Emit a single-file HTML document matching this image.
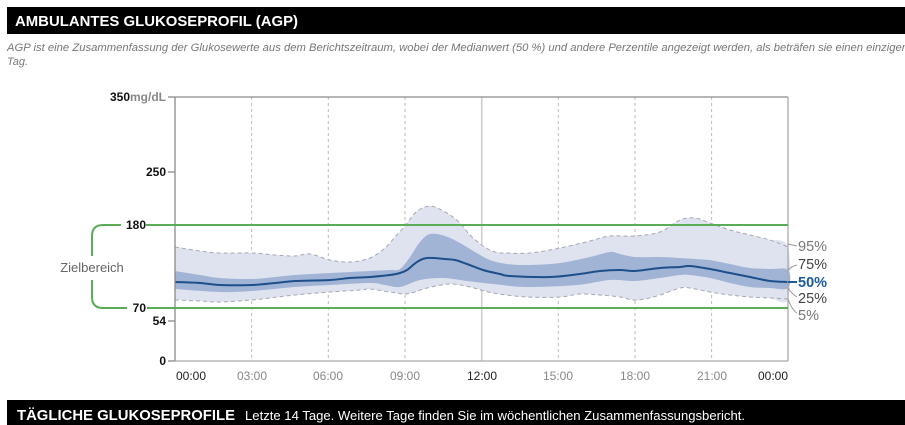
<!DOCTYPE html>
<html><head><meta charset="utf-8">
<style>
html,body{margin:0;padding:0;background:#fff;}
svg{display:block;font-family:"Liberation Sans",Arial,sans-serif;}
</style></head>
<body>
<svg id="c" width="905" height="425" viewBox="0 0 905 425" xmlns="http://www.w3.org/2000/svg">
<!-- header -->
<rect x="7" y="7" width="898" height="27" fill="#000"/>
<text x="15" y="26" font-size="15" font-weight="bold" fill="#fff" textLength="283" lengthAdjust="spacingAndGlyphs">AMBULANTES GLUKOSEPROFIL (AGP)</text>
<text x="7" y="51" font-size="11" font-style="italic" fill="#777" textLength="441" lengthAdjust="spacingAndGlyphs">AGP ist eine Zusammenfassung der Glukosewerte aus dem Berichtszeitraum, wobei der</text>
<text x="451" y="51" font-size="11" font-style="italic" fill="#777" textLength="457" lengthAdjust="spacingAndGlyphs">Medianwert (50 %) und andere Perzentile angezeigt werden, als beträfen sie einen einzigen</text>
<text x="7" y="65" font-size="11" font-style="italic" fill="#777">Tag.</text>

<!-- gridlines -->
<g stroke="#bbb" stroke-width="1" stroke-dasharray="3,3">
<line x1="251.6" y1="97" x2="251.6" y2="361"/>
<line x1="328.3" y1="97" x2="328.3" y2="361"/>
<line x1="405" y1="97" x2="405" y2="361"/>
<line x1="558.3" y1="97" x2="558.3" y2="361"/>
<line x1="635" y1="97" x2="635" y2="361"/>
<line x1="711.6" y1="97" x2="711.6" y2="361"/>
</g>
<line x1="481.7" y1="97" x2="481.7" y2="361" stroke="#ccc" stroke-width="1.5"/>

<!-- 5-95 band -->
<polygon class="sm" fill="#dfe3ef" points="175,247 200,251 220,253 252,253 275,255 295,256 310,254 330,260 350,262 370,258 385,248 395,237 405,226 415,213 425,207 435,207 450,215 460,223 470,235 483,246 495,252 507,253 530,253 560,248 590,241 610,236 635,236 660,232 680,220 695,218 710,223 730,230 750,235 770,240 788,247 788,299 770,298 750,297 730,295 710,292 690,288 680,288 660,295 645,299 633,300 620,297 600,295 580,294 560,297 527,297 493,293 470,287 450,284 427,288 415,292 405,294 390,292 370,289 360,290 330,292 295,295 270,298 252,300 220,302 200,301 175,300"/>
<polyline class="sm" fill="none" stroke="#a5a9b3" stroke-width="1" stroke-dasharray="4,3" points="175,247 200,251 220,253 252,253 275,255 295,256 310,254 330,260 350,262 370,258 385,248 395,237 405,226 415,213 425,207 435,207 450,215 460,223 470,235 483,246 495,252 507,253 530,253 560,248 590,241 610,236 635,236 660,232 680,220 695,218 710,223 730,230 750,235 770,240 788,247"/>
<polyline class="sm" fill="none" stroke="#a5a9b3" stroke-width="1" stroke-dasharray="4,3" points="175,300 200,301 220,302 252,300 270,298 295,295 330,292 360,290 370,289 390,292 405,294 415,292 427,288 450,284 470,287 493,293 527,297 560,297 580,294 600,295 620,297 633,300 645,299 660,295 680,288 690,288 710,292 730,295 750,297 770,298 788,299"/>

<!-- 25-75 band -->
<polygon class="sm" fill="#a2b4d6" points="175,271 200,275 220,278 252,279 275,277 295,275 330,273 370,271 390,270 400,269 410,257 420,242 430,234 445,236 460,243 475,252 490,260 507,264 530,265 560,263 590,257 610,252 620,254 635,257 660,257 680,258 710,260 730,264 750,268 770,269 788,270 788,288 770,288 750,287 730,283 710,278 690,275 680,275 660,278 635,281 610,280 577,285 527,287 493,284 467,281 443,278 420,280 400,287 385,285 370,283 330,285 295,287 252,291 220,292 175,289"/>

<!-- median -->
<polyline class="sm" fill="none" stroke="#1d4f8b" stroke-width="2" stroke-linejoin="round" points="175,282 200,283 220,285 252,285 275,283 295,281 330,280 350,278 370,277 390,275 400,273 407,270 417,262 427,258 445,259 455,260 467,264 483,270 500,274 510,276 550,277 580,274 600,271 620,270 635,271 660,268 680,267 690,266 710,269 730,273 750,277 770,281 788,282"/>

<!-- axes -->
<g stroke="#8a8a8a" stroke-width="1.3" fill="none">
<line x1="175" y1="97" x2="788" y2="97"/>
<line x1="175" y1="97" x2="175" y2="361"/>
<line x1="788" y1="97" x2="788" y2="361" stroke="#aaa"/>
<line x1="175" y1="361" x2="788" y2="361" stroke="#aaa"/>
<line x1="168" y1="97" x2="175" y2="97"/>
<line x1="168" y1="172" x2="175" y2="172"/>
<line x1="168" y1="321" x2="175" y2="321"/>
<line x1="168" y1="361" x2="175" y2="361"/>
</g>

<!-- target range green -->
<g stroke="#5aac57" stroke-width="2" fill="none">
<line x1="146" y1="225" x2="788" y2="225"/>
<line x1="147" y1="308" x2="788" y2="308"/>
<path d="M121,225 H103 Q92,225 92,236 V256"/>
<path d="M92,280 V297 Q92,308 103,308 H127"/>
</g>
<text x="92" y="272" font-size="13" fill="#666" text-anchor="middle">Zielbereich</text>

<!-- y labels -->
<g font-size="12" font-weight="bold" fill="#111" text-anchor="end">
<text x="166" y="101"><tspan>350</tspan><tspan fill="#888">mg/dL</tspan></text>
<text x="166" y="176">250</text>
<text x="146" y="229">180</text>
<text x="146" y="312">70</text>
<text x="166" y="325">54</text>
<text x="166" y="365">0</text>
</g>

<!-- x labels -->
<g font-size="12" fill="#888" text-anchor="middle">
<text x="176" y="380" text-anchor="start" fill="#222">00:00</text>
<text x="252" y="380">03:00</text>
<text x="328" y="380">06:00</text>
<text x="405" y="380">09:00</text>
<text x="482" y="380" fill="#222">12:00</text>
<text x="558" y="380">15:00</text>
<text x="635" y="380">18:00</text>
<text x="712" y="380">21:00</text>
<text x="788" y="380" text-anchor="end" fill="#222">00:00</text>
</g>

<!-- legend -->
<g stroke="#999" stroke-width="1" fill="none">
<path d="M788,244 Q792,245 797,246"/>
<path d="M788,270 Q792,266 797,265"/>
<path d="M788,288 Q792,294 797,297"/>
<path d="M788,299 Q792,310 797,313"/>
</g>
<line x1="788" y1="282" x2="797" y2="282" stroke="#1d5a98" stroke-width="2"/>
<g font-size="14.5">
<text x="798" y="251" fill="#777">95%</text>
<text x="798" y="269" fill="#444">75%</text>
<text x="798" y="287" fill="#1d5a98" font-weight="bold">50%</text>
<text x="798" y="303" fill="#444">25%</text>
<text x="798" y="320" fill="#777">5%</text>
</g>

<!-- bottom header -->
<rect x="7" y="400" width="898" height="25" fill="#000"/>
<text x="17" y="420" font-size="15" font-weight="bold" fill="#fff" textLength="218" lengthAdjust="spacingAndGlyphs">TÄGLICHE GLUKOSEPROFILE</text>
<text x="245" y="420" font-size="13" fill="#fff" textLength="500" lengthAdjust="spacingAndGlyphs">Letzte 14 Tage. Weitere Tage finden Sie im wöchentlichen Zusammenfassungsbericht.</text>
</svg>
<script>
(function(){
  try{
    var NS="http://www.w3.org/2000/svg";
    function seg(p){
      var d="";
      for(var i=0;i<p.length-1;i++){
        var p0=p[i-1]||p[i],p1=p[i],p2=p[i+1],p3=p[i+2]||p2;
        var t=6;
        var c1x=p1[0]+(p2[0]-p0[0])/t,c1y=p1[1]+(p2[1]-p0[1])/t;
        var c2x=p2[0]-(p3[0]-p1[0])/t,c2y=p2[1]-(p3[1]-p1[1])/t;
        if(c1x<p1[0])c1x=p1[0]; if(c2x>p2[0])c2x=p2[0];
        d+=" C"+c1x.toFixed(2)+","+c1y.toFixed(2)+" "+c2x.toFixed(2)+","+c2y.toFixed(2)+" "+p2[0]+","+p2[1];
      }
      return d;
    }
    function parse(s){return s.trim().split(/\s+/).map(function(q){var a=q.split(",");return [+a[0],+a[1]];});}
    var els=document.querySelectorAll(".sm");
    for(var k=0;k<els.length;k++){
      var el=els[k],pts=parse(el.getAttribute("points")),d;
      if(el.tagName.toLowerCase()==="polygon"){
        var n=pts.length/2,a=pts.slice(0,n),b=pts.slice(n);
        var brev=b.slice().reverse();
        d="M"+a[0][0]+","+a[0][1]+seg(a)+" L"+b[0][0]+","+b[0][1];
        // b goes right-to-left; smooth using reversed-x logic
        var dd="";
        for(var i=0;i<b.length-1;i++){
          var p0=b[i-1]||b[i],p1=b[i],p2=b[i+1],p3=b[i+2]||p2,t=6;
          dd+=" C"+(p1[0]+(p2[0]-p0[0])/t).toFixed(2)+","+(p1[1]+(p2[1]-p0[1])/t).toFixed(2)+" "+(p2[0]-(p3[0]-p1[0])/t).toFixed(2)+","+(p2[1]-(p3[1]-p1[1])/t).toFixed(2)+" "+p2[0]+","+p2[1];
        }
        d+=dd+" Z";
      } else {
        d="M"+pts[0][0]+","+pts[0][1]+seg(pts);
      }
      var p=document.createElementNS(NS,"path");
      var attrs=["fill","stroke","stroke-width","stroke-dasharray","stroke-linejoin"];
      for(var j=0;j<attrs.length;j++){var v=el.getAttribute(attrs[j]);if(v!==null)p.setAttribute(attrs[j],v);}
      p.setAttribute("d",d);
      el.parentNode.replaceChild(p,el);
    }
  }catch(e){}
})();
</script>
</body></html>
